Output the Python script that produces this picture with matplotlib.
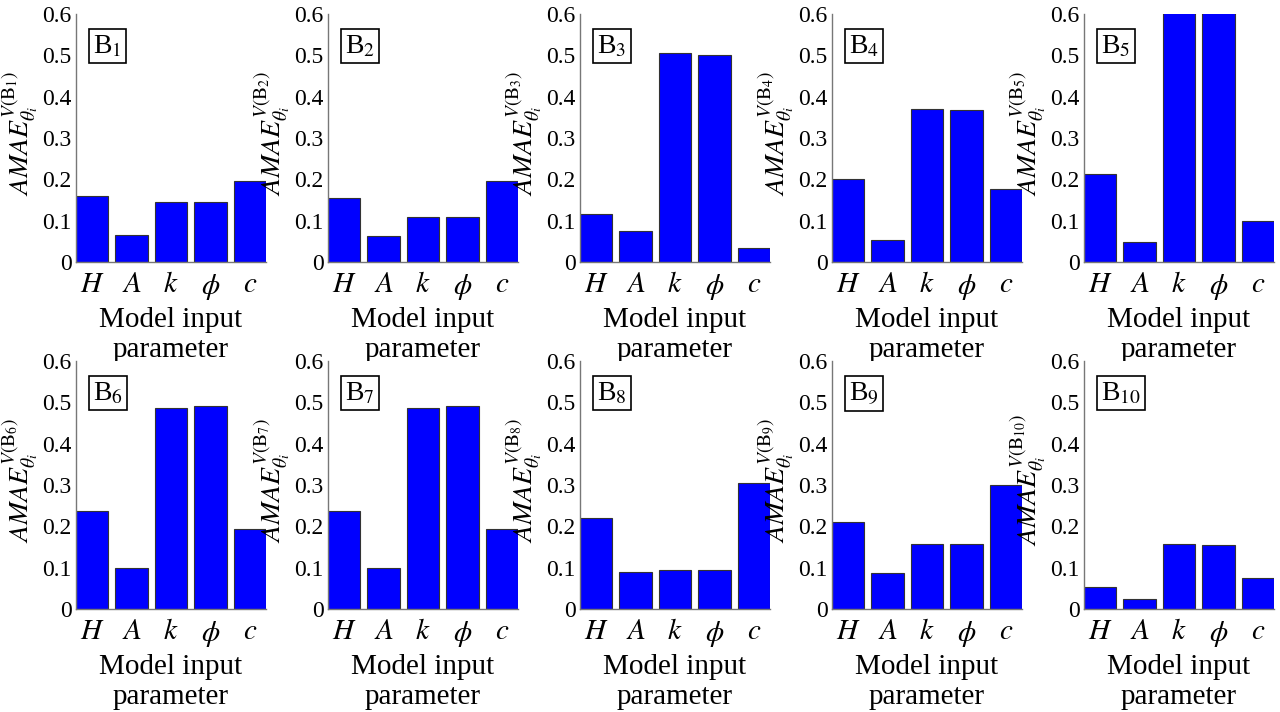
import matplotlib.pyplot as plt
import numpy as np

# Sensitivity values per block B1..B10
params = ['H', 'A', 'k', r'\phi', 'c']
B1 = [0.160, 0.066, 0.146, 0.144, 0.197]
B2 = [0.155, 0.064, 0.110, 0.108, 0.195]
B3 = [0.115, 0.075, 0.505, 0.500, 0.033]
B4 = [0.200, 0.053, 0.370, 0.368, 0.177]
B5 = [0.213, 0.049, 0.650, 0.650, 0.098]
B6 = [0.237, 0.099, 0.487, 0.491, 0.193]
B7 = [0.237, 0.099, 0.487, 0.491, 0.193]
B8 = [0.220, 0.090, 0.095, 0.095, 0.305]
B9 = [0.210, 0.087, 0.157, 0.157, 0.300]
B10 = [0.054, 0.023, 0.157, 0.155, 0.075]
blocks = [B1, B2, B3, B4, B5, B6, B7, B8, B9, B10]

plt.rcParams['font.family'] = ['Liberation Serif', 'DejaVu Serif']
plt.rcParams['mathtext.fontset'] = 'stix'

fig = plt.figure(figsize=(12.8, 7.12), dpi=100)

lefts = [76, 328, 580, 832, 1084]
bottoms = [262, 609]
x = np.arange(len(params))

for i, vals in enumerate(blocks):
    row, col = divmod(i, 5)
    ax = fig.add_axes([lefts[col] / 1280, 1 - bottoms[row] / 712, 190 / 1280, 248 / 712])
    ax.bar(x, vals, width=0.82, color='#0000ff', edgecolor='#333333', linewidth=0.8)
    ax.set_xlim(-0.41, 4.41)
    ax.set_ylim(0, 0.6)
    ax.set_yticks([0, 0.1, 0.2, 0.3, 0.4, 0.5, 0.6])
    ax.set_yticklabels(['0', '0.1', '0.2', '0.3', '0.4', '0.5', '0.6'], fontsize=17)
    ax.set_xticks(x)
    ax.set_xticklabels(['$' + p + '$' for p in params], fontsize=21)
    ax.tick_params(length=0, pad=3)
    ax.tick_params(axis='x', pad=7)
    for s in ['top', 'right']:
        ax.spines[s].set_visible(False)
    for s in ['left', 'bottom']:
        ax.spines[s].set_color('#777777')
        ax.spines[s].set_linewidth(1.0)
    n = i + 1
    ax.set_ylabel(r'$AMAE_{\theta_i}^{V(\mathrm{B}_{%d})}$' % n, fontsize=20)
    ax.yaxis.set_label_coords(-0.19, 0.52)
    ax.set_xlabel('Model input\nparameter', fontsize=21, linespacing=1.2, labelpad=4)
    ax.text(0.09, 0.87, r'B$_{%d}$' % n, transform=ax.transAxes, fontsize=20,
            va='center', ha='left',
            bbox=dict(boxstyle='square,pad=0.15', fc='white', ec='black', lw=1.2))

fig.savefig('out.png', dpi=100)
